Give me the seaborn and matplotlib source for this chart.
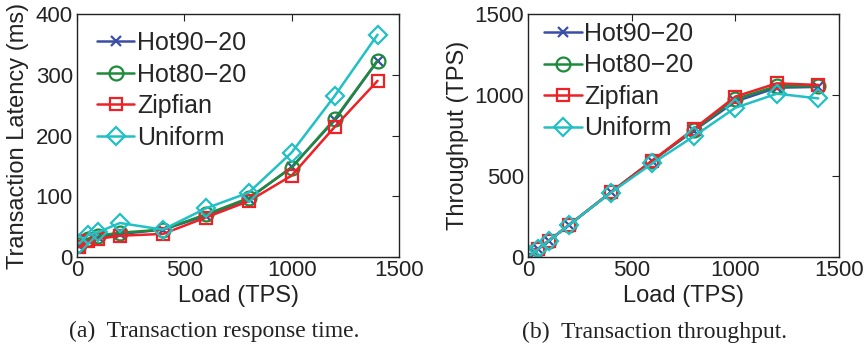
import matplotlib
matplotlib.use("Agg")
import matplotlib.pyplot as plt
import seaborn as sns
import pandas as pd

sns.set_theme(style="white")
plt.rcParams['font.family'] = ['Liberation Sans', 'DejaVu Sans']

load = [10, 50, 100, 200, 400, 600, 800, 1000, 1200, 1400]
series = ["Hot90−20", "Hot80−20", "Zipfian", "Uniform"]

lat_hot90 = [18, 28, 33, 38, 45, 68, 96, 148, 225, 323]
lat_hot80 = [20, 30, 35, 40, 45, 70, 97, 147, 227, 323]
lat_zipf = [16, 27, 30, 35, 38, 65, 92, 134, 214, 290]
lat_unif = [22, 36, 41, 56, 45, 80, 106, 172, 265, 366]

thr_hot90 = [10, 50, 100, 200, 400, 595, 780, 960, 1045, 1050]
thr_hot80 = [10, 50, 100, 200, 400, 595, 785, 975, 1055, 1055]
thr_zipf = [10, 50, 100, 200, 400, 595, 791, 990, 1072, 1062]
thr_unif = [10, 50, 100, 200, 398, 578, 745, 921, 1008, 979]

colors = {"Hot90−20": "#3a4ea8", "Hot80−20": "#1f8a3c", "Zipfian": "#ec2226", "Uniform": "#22c0c4"}
markers = {"Hot90−20": "x", "Hot80−20": "o", "Zipfian": "s", "Uniform": "D"}
msize = {"Hot90−20": 7, "Hot80−20": 10, "Zipfian": 9, "Uniform": 9}

def build(vals):
    rows = []
    for name, v in zip(series, vals):
        for x, y in zip(load, v):
            rows.append({"Load": x, "Value": y, "Series": name})
    return pd.DataFrame(rows)

df_lat = build([lat_hot90, lat_hot80, lat_zipf, lat_unif])
df_thr = build([thr_hot90, thr_hot80, thr_zipf, thr_unif])

W, H = 866, 347
fig = plt.figure(figsize=(8.66, 3.47), dpi=100)
ax1 = fig.add_axes([77/W, (H-257)/H, 322/W, 243/H])
ax2 = fig.add_axes([528/W, (H-257)/H, 311/W, 243/H])

TICK_FS = 16
LABEL_FS = 17
LEG_FS = 18
TXT = "#222222"

def draw(ax, df, ylim, yticks, ylabel, ylab_x, leg_anchor):
    for name in series:
        sub = df[df.Series == name]
        sns.lineplot(data=sub, x="Load", y="Value", ax=ax, color=colors[name],
                     marker=markers[name], markersize=msize[name],
                     markerfacecolor="none", markeredgecolor=colors[name],
                     markeredgewidth=1.6, linewidth=1.8, label=name,
                     errorbar=None)
    ax.set_xlim(0, 1500)
    ax.set_ylim(*ylim)
    ax.set_xticks([0, 500, 1000, 1500])
    ax.set_yticks(yticks)
    ax.tick_params(direction="in", top=True, right=True, length=5, width=0.8,
                   labelsize=TICK_FS, colors=TXT, labelcolor=TXT)
    ax.tick_params(axis="x", pad=2)
    ax.tick_params(axis="y", pad=3)
    for s in ax.spines.values():
        s.set_color(TXT)
        s.set_linewidth(1.0)
    ax.set_xlabel("Load (TPS)", fontsize=LABEL_FS, color=TXT)
    ax.xaxis.label.set_va("center")
    ax.xaxis.set_label_coords(0.5, (257 - 296) / 243)
    ax.set_ylabel(ylabel, fontsize=LABEL_FS, color=TXT)
    ax.yaxis.label.set_va("center")
    ax.yaxis.set_label_coords(ylab_x, 0.5)
    ax.legend(loc="upper left", bbox_to_anchor=leg_anchor, frameon=False,
              fontsize=LEG_FS, handlelength=1.5, handletextpad=0.1,
              labelspacing=0.3, borderaxespad=0.0, borderpad=0.0)
    ax.grid(False)

draw(ax1, df_lat, (0, 400), [0, 100, 200, 300, 400], "Transaction Latency (ms)",
     (18 - 77) / 322, (0.062, 0.93))
draw(ax2, df_thr, (0, 1500), [0, 500, 1000, 1500], "Throughput (TPS)",
     (458 - 528) / 311, (0.052, 0.968))

fig.text(214.5 / W, 1 - 331 / H, "(a)  Transaction response time.", ha="center", va="center",
         fontsize=17, family="Liberation Serif", color=TXT)
fig.text(655 / W, 1 - 332 / H, "(b)  Transaction throughput.", ha="center", va="center",
         fontsize=17, family="Liberation Serif", color=TXT)

fig.savefig("out.png", dpi=100, facecolor="white")
